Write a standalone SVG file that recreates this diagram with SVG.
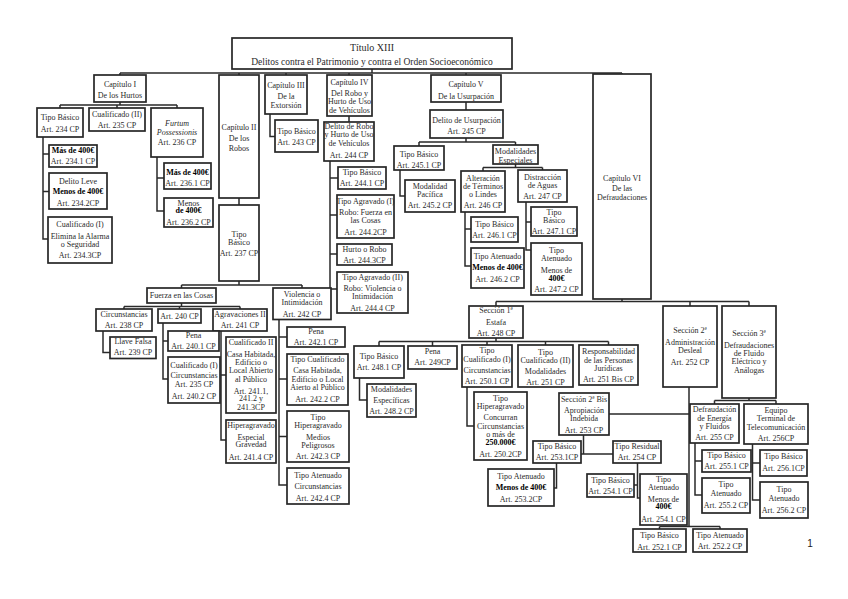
<svg xmlns="http://www.w3.org/2000/svg" width="848" height="599" viewBox="0 0 848 599">
<style>
rect{fill:#fff;stroke:#262626;stroke-width:1.7}
text{font-family:"Liberation Serif",serif;font-size:8px;fill:#2a2a2a;text-anchor:middle}
.k{font-weight:bold;fill:#000}
.i{font-style:italic}
#conn path{fill:none;stroke:#2a2a2a;stroke-width:1.5}
</style>
<rect x="0" y="0" width="848" height="599" style="fill:#fff;stroke:none"/>
<g id="conn">
<path d="M372,69V73 M120,73H622 M120,73V75 M239,73V75 M286,73V75 M349,73V75 M466,73V75 M622,73V74"/>
<path d="M120,102V105 M60,105H177 M60,105V108 M117,105V108 M177,105V108"/>
<path d="M43,137V239H48 M43,154H49 M43,191.5H49"/>
<path d="M157,157V211H164 M157,178H164"/>
<path d="M239,198V205 M239,281V285 M181.5,285H302 M181.5,285V288 M302,285V288"/>
<path d="M181.5,303V306.5 M124,306.5H240 M124,306.5V309 M179.5,306.5V309 M240,306.5V309"/>
<path d="M103,331V352.5H110 M163,323V379H168 M163,341H168 M221,331V440H226 M221,375H226"/>
<path d="M279,319.5V485H287 M279,337H287 M279,379H287 M279,436.5H287"/>
<path d="M270,114V136.5H275 M349,116V122 M330,161V289H337 M330,178H338 M330,215H337 M330,254H337"/>
<path d="M466,102V110 M466,138V142 M419,142H515.5 M419,142V146 M515.5,142V145 M400,170V196H405"/>
<path d="M515.5,164V167.5 M483,167.5H542.5 M483,167.5V171 M542.5,167.5V170 M465,212V266H471 M465,229H471 M526,202V250H531 M526,222H531"/>
<path d="M622,299V301.5 M496,301.5H749 M496,301.5V306 M690,301.5V306 M749,301.5V306"/>
<path d="M496,338V341.5 M379,341.5H608.5 M379,341.5V346 M432.5,341.5V346 M487,341.5V345 M545.5,341.5V345 M608.5,341.5V345"/>
<path d="M359.5,378V400H367 M467,387V426H474"/>
<path d="M689,387V526.5 M609,414H689 M659.5,526.5H720 M659.5,526.5V529 M720,526.5V529"/>
<path d="M583.5,435V454H613 M581,454H583.5 M556.5,463V488H554 M637.5,463V498H640 M634,485H637.5"/>
<path d="M749,398V400.5 M714.5,400.5H776 M714.5,400.5V404 M776,400.5V404 M695,443V495H702 M695,461H702 M752.5,444V500H760 M752.5,463H760"/>
</g>
<g id="titulo"><rect x="232" y="38" width="280" height="31"/><text x="372" y="51" style="font-size:10px">Título XIII</text><text x="372" y="64.5" style="font-size:9.5px">Delitos contra el Patrimonio y contra el Orden Socioeconómico</text></g>
<g id="cap1"><rect x="94" y="75" width="52" height="27"/><text x="120" y="86.5">Capítulo I</text><text x="120" y="98">De los Hurtos</text></g>
<g id="tb234"><rect x="37" y="108" width="46" height="29"/><text x="60" y="119.5">Tipo Básico</text><text x="60" y="132">Art. 234 CP</text></g>
<g id="cual235"><rect x="89" y="108" width="56" height="23"/><text x="117" y="117">Cualificado (II)</text><text x="117" y="128">Art. 235 CP</text></g>
<g id="furtum"><rect x="151" y="108" width="52" height="49"/><text x="177" y="126" class="i">Furtum</text><text x="177" y="134.5" class="i">Possessionis</text><text x="177" y="145">Art. 236 CP</text></g>
<g id="mas2341"><rect x="49" y="145" width="48" height="22"/><text x="73" y="152.5" class="k">Más de 400€</text><text x="73" y="164">Art. 234.1 CP</text></g>
<g id="leve"><rect x="49" y="173" width="58" height="36"/><text x="78" y="183.5">Delito Leve</text><text x="78" y="194" class="k">Menos de 400€</text><text x="78" y="206">Art. 234.2CP</text></g>
<g id="cual2343"><rect x="48" y="217" width="64" height="46"/><text x="80" y="227">Cualificado (I)</text><text x="80" y="238.5">Elimina la Alarma</text><text x="80" y="247">o Seguridad</text><text x="80" y="258">Art. 234.3CP</text></g>
<g id="mas2361"><rect x="164" y="163" width="47" height="26"/><text x="187.5" y="174.5" class="k">Más de 400€</text><text x="187.5" y="186">Art. 236.1 CP</text></g>
<g id="menos2362"><rect x="164" y="198" width="49" height="29"/><text x="188.5" y="205.5">Menos</text><text x="188.5" y="213" class="k">de 400€</text><text x="188.5" y="224.5">Art. 236.2 CP</text></g>
<g id="cap2"><rect x="219" y="75" width="40" height="123"/><text x="239" y="129.5">Capítulo II</text><text x="239" y="141">De los</text><text x="239" y="150.5">Robos</text></g>
<g id="tb237"><rect x="219" y="205" width="40" height="76"/><text x="239" y="237">Tipo</text><text x="239" y="245">Básico</text><text x="239" y="256">Art. 237 CP</text></g>
<g id="fuerza"><rect x="147" y="288" width="69" height="15"/><text x="181.5" y="298">Fuerza en las Cosas</text></g>
<g id="violencia"><rect x="273" y="288" width="58" height="31.5"/><text x="302" y="296.5">Violencia o</text><text x="302" y="304.5">Intimidación</text><text x="302" y="316.5">Art. 242 CP</text></g>
<g id="circ238"><rect x="96" y="309" width="56" height="22"/><text x="124" y="317">Circunstancias</text><text x="124" y="328">Art. 238 CP</text></g>
<g id="art240"><rect x="158" y="309" width="43" height="14"/><text x="179.5" y="319">Art. 240 CP</text></g>
<g id="agrav241"><rect x="213" y="309" width="54" height="22"/><text x="240" y="317">Agravaciones II</text><text x="240" y="328">Art. 241 CP</text></g>
<g id="llave"><rect x="110" y="337" width="46" height="21.5"/><text x="133" y="344">Llave Falsa</text><text x="133" y="354.5">Art. 239 CP</text></g>
<g id="pena2401"><rect x="168" y="331" width="51" height="20"/><text x="193.5" y="338">Pena</text><text x="193.5" y="349">Art. 240.1 CP</text></g>
<g id="cualI"><rect x="168" y="357" width="52" height="46"/><text x="194" y="367.5">Cualificado (I)</text><text x="194" y="377.5">Circunstancias</text><text x="194" y="386.5">Art. 235 CP</text><text x="194" y="398.5">Art. 240.2 CP</text></g>
<g id="cualII"><rect x="226" y="337" width="50" height="76"/><text x="251" y="344.5">Cualificado II</text><text x="251" y="356.5">Casa Habitada,</text><text x="251" y="365">Edificio o</text><text x="251" y="373">Local Abierto</text><text x="251" y="382">al Público</text><text x="251" y="393.5">Art. 241.1,</text><text x="251" y="401">241.2 y</text><text x="251" y="410">241.3CP</text></g>
<g id="hiper241"><rect x="226" y="420" width="50" height="43"/><text x="251" y="428">Hiperagravado</text><text x="251" y="439.5">Especial</text><text x="251" y="447">Gravedad</text><text x="251" y="459.5">Art. 241.4 CP</text></g>
<g id="pena2421"><rect x="287" y="327" width="58" height="20"/><text x="316" y="334">Pena</text><text x="316" y="345">Art. 242.1 CP</text></g>
<g id="tc2422"><rect x="287" y="354" width="61" height="51"/><text x="317.5" y="361.5">Tipo Cualificado</text><text x="317.5" y="373">Casa Habitada,</text><text x="317.5" y="381.5">Edificio o Local</text><text x="317.5" y="389.5">Aierto al Público</text><text x="317.5" y="401.5">Art. 242.2 CP</text></g>
<g id="th2423"><rect x="287" y="411" width="62" height="51"/><text x="318" y="420">Tipo</text><text x="318" y="428">Hiperagravado</text><text x="318" y="440">Medios</text><text x="318" y="448">Peligrosos</text><text x="318" y="459">Art. 242.3 CP</text></g>
<g id="ta2424"><rect x="287" y="468" width="62" height="36"/><text x="318" y="478">Tipo Atenuado</text><text x="318" y="489">Circunstancias</text><text x="318" y="501">Art. 242.4 CP</text></g>
<g id="cap3"><rect x="265" y="75" width="42" height="39"/><text x="286" y="88">Capítulo III</text><text x="286" y="99">De la</text><text x="286" y="107.5">Extorsión</text></g>
<g id="tb243"><rect x="275" y="120" width="43" height="32"/><text x="296.5" y="133.5">Tipo Básico</text><text x="296.5" y="145">Art. 243 CP</text></g>
<g id="cap4"><rect x="327" y="75" width="45" height="41"/><text x="349.5" y="85">Capítulo IV</text><text x="349.5" y="95.5">Del Robo y</text><text x="349.5" y="103.5">Hurto de Uso</text><text x="349.5" y="112.5">de Vehículos</text></g>
<g id="d244"><rect x="324" y="122" width="50" height="39"/><text x="349" y="128.5">Delito de Robo</text><text x="349" y="137">y Hurto de Uso</text><text x="349" y="146">de Vehículos</text><text x="349" y="158">Art. 244 CP</text></g>
<g id="tb2441"><rect x="338" y="167" width="48" height="22"/><text x="362" y="174.5">Tipo Básico</text><text x="362" y="186">Art. 244.1 CP</text></g>
<g id="ta2442"><rect x="337" y="195" width="57" height="43"/><text x="365.5" y="203.5">Tipo Agravado (I)</text><text x="365.5" y="214.5">Robo: Fuerza en</text><text x="365.5" y="223">las Cosas</text><text x="365.5" y="235">Art. 244.2CP</text></g>
<g id="hr2443"><rect x="337" y="244" width="55" height="21"/><text x="364.5" y="251.5">Hurto o Robo</text><text x="364.5" y="263">Art. 244.3CP</text></g>
<g id="ta2444"><rect x="337" y="272" width="71" height="41"/><text x="372.5" y="279.5">Tipo Agravado (II)</text><text x="372.5" y="291">Robo: Violencia o</text><text x="372.5" y="299">Intimidación</text><text x="372.5" y="311">Art. 244.4 CP</text></g>
<g id="cap5"><rect x="431" y="75" width="70" height="27"/><text x="466" y="87">Capítulo V</text><text x="466" y="98.5">De la Usurpación</text></g>
<g id="d245"><rect x="430" y="110" width="73" height="28"/><text x="466.5" y="122.5">Delito de Usurpación</text><text x="466.5" y="133.5">Art. 245 CP</text></g>
<g id="tb2451"><rect x="394" y="146" width="50" height="24"/><text x="419" y="156.5">Tipo Básico</text><text x="419" y="167.5">Art. 245.1 CP</text></g>
<g id="mp2452"><rect x="405" y="180" width="50" height="32"/><text x="430" y="188.5">Modalidad</text><text x="430" y="197">Pacífica</text><text x="430" y="208">Art. 245.2 CP</text></g>
<g id="me"><rect x="493" y="145" width="45" height="19"/><text x="515.5" y="154">Modalidades</text><text x="515.5" y="162.5">Especiales</text></g>
<g id="alt246"><rect x="461" y="171" width="44" height="41"/><text x="483" y="180.5">Alteración</text><text x="483" y="188.5">de Términos</text><text x="483" y="197">o Lindes</text><text x="483" y="208">Art. 246 CP</text></g>
<g id="dis247"><rect x="518" y="170" width="49" height="32"/><text x="542.5" y="179.5">Distracción</text><text x="542.5" y="188">de Aguas</text><text x="542.5" y="198.5">Art. 247 CP</text></g>
<g id="tb2461"><rect x="471" y="217" width="47" height="25"/><text x="494.5" y="226.5">Tipo Básico</text><text x="494.5" y="237.5">Art. 246.1 CP</text></g>
<g id="ta2462"><rect x="471" y="248" width="53" height="40"/><text x="497.5" y="259">Tipo Atenuado</text><text x="497.5" y="270" class="k">Menos de 400€</text><text x="497.5" y="281.5">Art. 246.2 CP</text></g>
<g id="tb2471"><rect x="531" y="207" width="46" height="29"/><text x="554" y="214.5">Tipo</text><text x="554" y="223">Básico</text><text x="554" y="234">Art. 247.1 CP</text></g>
<g id="ta2472"><rect x="531" y="243" width="51" height="52"/><text x="556.5" y="252.5">Tipo</text><text x="556.5" y="261">Atenuado</text><text x="556.5" y="272.5">Menos de</text><text x="556.5" y="281" class="k">400€</text><text x="556.5" y="292">Art. 247.2 CP</text></g>
<g id="cap6"><rect x="593" y="74" width="58" height="225"/><text x="622" y="180.5">Capítulo VI</text><text x="622" y="191">De las</text><text x="622" y="200">Defraudaciones</text></g>
<g id="sec1"><rect x="469" y="306" width="54" height="32"/><text x="496" y="312.5">Sección 1ª</text><text x="496" y="325">Estafa</text><text x="496" y="336">Art. 248 CP</text></g>
<g id="sec2"><rect x="663" y="306" width="54" height="81"/><text x="690" y="332.5">Sección 2ª</text><text x="690" y="345">Administración</text><text x="690" y="352.5">Desleal</text><text x="690" y="365">Art. 252 CP</text></g>
<g id="sec3"><rect x="722" y="306" width="54" height="92"/><text x="749" y="336">Sección 3ª</text><text x="749" y="347.5">Defraudaciones</text><text x="749" y="356">de Fluido</text><text x="749" y="364">Eléctrico y</text><text x="749" y="372.5">Análogas</text></g>
<g id="tb2481"><rect x="354" y="346" width="50" height="32"/><text x="379" y="359">Tipo Básico</text><text x="379" y="370">Art. 248.1 CP</text></g>
<g id="me2482"><rect x="367" y="384" width="49" height="33"/><text x="391.5" y="391.5">Modalidades</text><text x="391.5" y="402.5">Específicas</text><text x="391.5" y="413.5">Art. 248.2 CP</text></g>
<g id="pena249"><rect x="408" y="346" width="49" height="23"/><text x="432.5" y="354">Pena</text><text x="432.5" y="365">Art. 249CP</text></g>
<g id="tc2501"><rect x="462" y="345" width="50" height="42"/><text x="487" y="352.5">Tipo</text><text x="487" y="361.5">Cualificado (I)</text><text x="487" y="373">Circunstancias</text><text x="487" y="384">Art. 250.1 CP</text></g>
<g id="tc251"><rect x="518" y="345" width="55" height="42"/><text x="545.5" y="355">Tipo</text><text x="545.5" y="362.5">Cualificado (II)</text><text x="545.5" y="374">Modalidades</text><text x="545.5" y="385">Art. 251 CP</text></g>
<g id="resp"><rect x="579" y="345" width="59" height="40"/><text x="608.5" y="354">Responsabilidad</text><text x="608.5" y="362.5">de las Personas</text><text x="608.5" y="371">Jurídicas</text><text x="608.5" y="382">Art. 251 Bis CP</text></g>
<g id="th2502"><rect x="474" y="392" width="53" height="68"/><text x="500.5" y="401">Tipo</text><text x="500.5" y="408.5">Hiperagravado</text><text x="500.5" y="420">Concurran</text><text x="500.5" y="428.5">Circunstancias</text><text x="500.5" y="437">o más de</text><text x="500.5" y="444.5" class="k">250.000€</text><text x="500.5" y="457">Art. 250.2CP</text></g>
<g id="sec2bis"><rect x="559" y="393" width="50" height="42"/><text x="584" y="401.5">Sección 2ª Bis</text><text x="584" y="412.5">Apropiación</text><text x="584" y="421">Indebida</text><text x="584" y="432.5">Art. 253 CP</text></g>
<g id="tb2531"><rect x="533" y="441" width="48" height="22"/><text x="557" y="449">Tipo Básico</text><text x="557" y="459.5">Art. 253.1CP</text></g>
<g id="tr254"><rect x="613" y="441" width="48" height="22"/><text x="637" y="449">Tipo Residual</text><text x="637" y="459.5">Art. 254 CP</text></g>
<g id="ta2532"><rect x="488" y="469" width="66" height="37"/><text x="521" y="479">Tipo Atenuado</text><text x="521" y="490" class="k">Menos de 400€</text><text x="521" y="501.5">Art. 253.2CP</text></g>
<g id="tb2541"><rect x="587" y="474" width="47" height="23"/><text x="610.5" y="483">Tipo Básico</text><text x="610.5" y="494">Art. 254.1 CP</text></g>
<g id="ta2541"><rect x="640" y="474" width="47" height="51"/><text x="663.5" y="482">Tipo</text><text x="663.5" y="490">Atenuado</text><text x="663.5" y="501.5">Menos de</text><text x="663.5" y="509" class="k">400€</text><text x="663.5" y="522">Art. 254.1 CP</text></g>
<g id="tb2521"><rect x="633" y="529" width="53" height="23"/><text x="659.5" y="538">Tipo Básico</text><text x="659.5" y="549.5">Art. 252.1 CP</text></g>
<g id="ta2522"><rect x="693" y="529" width="54" height="23"/><text x="720" y="537.5">Tipo Atenuado</text><text x="720" y="548.5">Art. 252.2 CP</text></g>
<g id="def255"><rect x="690" y="404" width="49" height="39"/><text x="714.5" y="411.5">Defraudación</text><text x="714.5" y="421">de Energía</text><text x="714.5" y="429">y Fluidos</text><text x="714.5" y="440">Art. 255 CP</text></g>
<g id="eq256"><rect x="744" y="404" width="64" height="40"/><text x="776" y="412.5">Equipo</text><text x="776" y="421">Terminal de</text><text x="776" y="430">Telecomunicación</text><text x="776" y="440.5">Art. 256CP</text></g>
<g id="tb2551"><rect x="702" y="450" width="49" height="22"/><text x="726.5" y="457.5">Tipo Básico</text><text x="726.5" y="468.5">Art. 255.1 CP</text></g>
<g id="ta2552"><rect x="702" y="478" width="48" height="35"/><text x="726" y="487">Tipo</text><text x="726" y="496">Atenuado</text><text x="726" y="507.5">Art. 255.2 CP</text></g>
<g id="tb2561"><rect x="760" y="450" width="47" height="26"/><text x="783.5" y="459">Tipo Básico</text><text x="783.5" y="471">Art. 256.1CP</text></g>
<g id="ta2562"><rect x="760" y="482" width="48" height="36"/><text x="784" y="491.5">Tipo</text><text x="784" y="501">Atenuado</text><text x="784" y="512.5">Art. 256.2 CP</text></g>
<text x="810" y="547" style="font-family:'Liberation Sans',sans-serif;font-size:10px;fill:#222">1</text>
</svg>
